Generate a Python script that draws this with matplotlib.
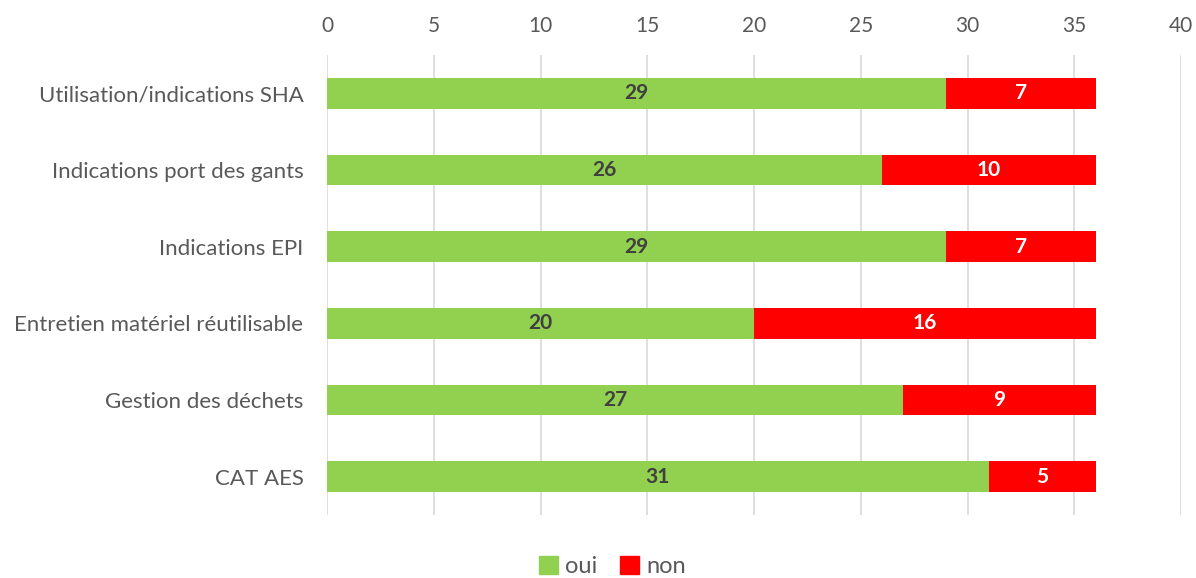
import matplotlib
matplotlib.use("Agg")
import matplotlib.pyplot as plt
from matplotlib.patches import Patch
import numpy as np

plt.rcParams['font.family'] = ['Lato', 'DejaVu Sans']

# ---------------------------------------------------------------------------
# Data
# ---------------------------------------------------------------------------
CATEGORIES = [
    "Utilisation/indications SHA",
    "Indications port des gants",
    "Indications EPI",
    "Entretien matériel réutilisable",
    "Gestion des déchets",
    "CAT AES",
]
OUI = [29, 26, 29, 20, 27, 31]
NON = [7, 10, 7, 16, 9, 5]
X_TICKS = [0, 5, 10, 15, 20, 25, 30, 35, 40]

GREEN = "#92D050"
RED = "#FF0000"
TEXT = "#595959"

fig = plt.figure(figsize=(11.96, 5.78), dpi=100)
ax = fig.add_axes([0.2734, 0.1090, 0.7141, 0.7958])

y = np.arange(len(CATEGORIES))
h = 0.4
b1 = ax.barh(y, OUI, height=h, color=GREEN, zorder=2, label="oui")
b2 = ax.barh(y, NON, left=OUI, height=h, color=RED, zorder=2, label="non")

for rect, v in zip(b1, OUI):
    ax.text(rect.get_x() + rect.get_width() / 2, rect.get_y() + rect.get_height() / 2,
            str(v), ha="center", va="center", fontsize=15, fontweight="bold",
            color="#404040", zorder=3)
for rect, v in zip(b2, NON):
    ax.text(rect.get_x() + rect.get_width() / 2, rect.get_y() + rect.get_height() / 2,
            str(v), ha="center", va="center", fontsize=15, fontweight="bold",
            color="white", zorder=3)

ax.set_xlim(0, 40)
ax.set_ylim(len(CATEGORIES) - 0.5, -0.5)
ax.set_xticks(X_TICKS)
ax.xaxis.tick_top()
ax.tick_params(axis="x", length=0, pad=14, labelsize=15, labelcolor=TEXT)
ax.set_yticks(y)
ax.set_yticklabels(CATEGORIES)
ax.tick_params(axis="y", length=0, pad=17, labelsize=16, labelcolor=TEXT)
ax.grid(axis="x", color="#D9D9D9", linewidth=1.2, zorder=0)
for s in ax.spines.values():
    s.set_visible(False)

handles = [Patch(color=GREEN, label="oui"), Patch(color=RED, label="non")]
fig.legend(handles=handles, loc="lower center", bbox_to_anchor=(0.512, -0.035),
           ncol=2, frameon=False, fontsize=17, labelcolor=TEXT,
           handlelength=0.8, handleheight=0.8, handletextpad=0.3, columnspacing=1.0)

fig.savefig("out.png", dpi=100)
